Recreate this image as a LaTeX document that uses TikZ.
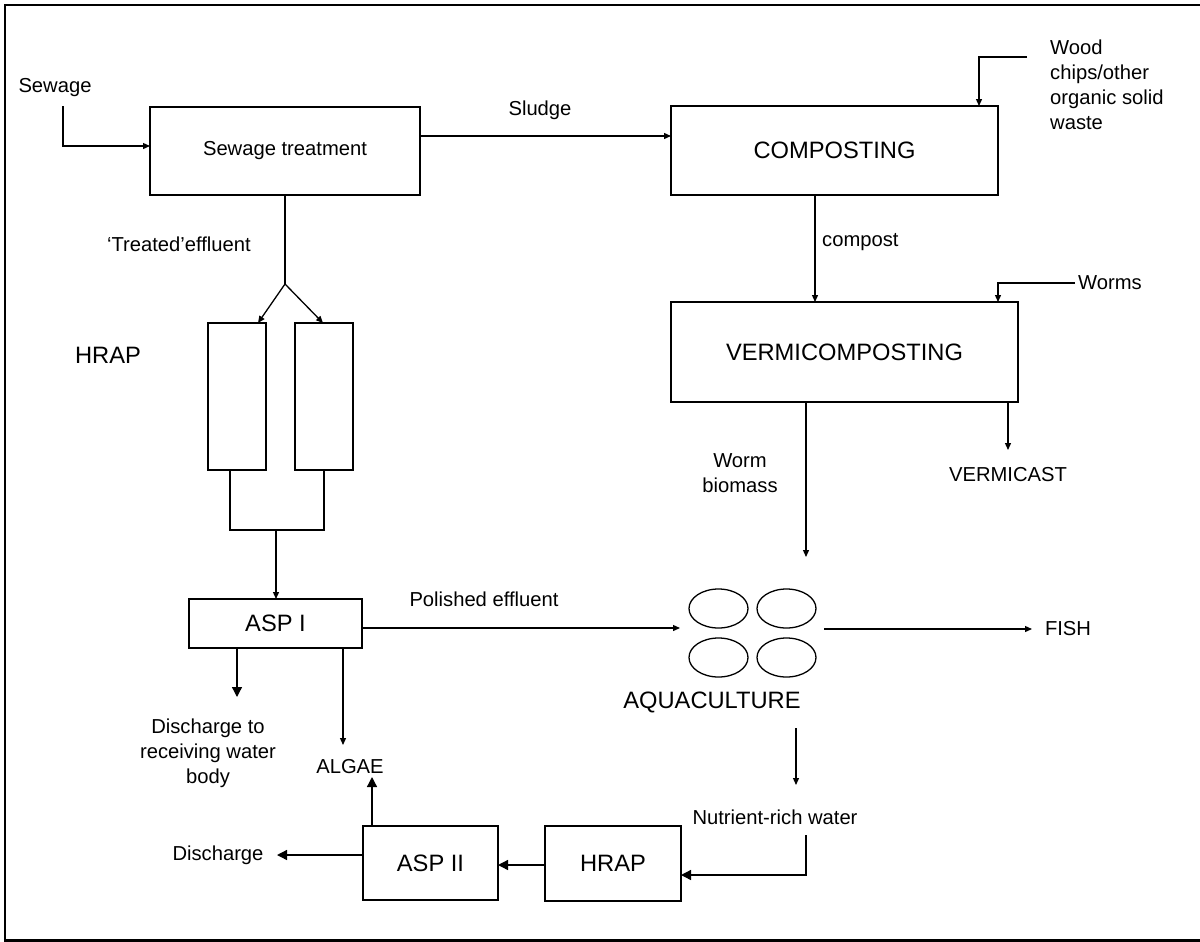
\documentclass[tikz,border=0pt]{standalone}
\usepackage{fontspec}
\setmainfont{Liberation Sans}
\usetikzlibrary{arrows.meta,shapes.geometric}
\begin{document}
\begin{tikzpicture}[x=1pt,y=-1pt,
  sm/.style={font=\fontsize{20.2}{25}\selectfont, inner sep=0pt},
  lg/.style={font=\fontsize{23.7}{28}\selectfont, inner sep=0pt},
  box/.style={draw, line width=1.3pt, inner sep=0pt, outer sep=0pt},
  ln/.style={line width=1.3pt},
  arr/.style={ln, -{Triangle[length=7pt,width=6pt]}},
  barr/.style={ln, -{Triangle[length=10pt,width=10pt]}},
  pond/.style={draw, line width=1.3pt, ellipse, minimum width=59pt, minimum height=39pt, inner sep=0pt}
]
\useasboundingbox (0,0) rectangle (1200,942);
\begin{scope}
  \clip (0,0) rectangle (1200,942);
  \draw[line width=2.2pt] (5,5) rectangle (1206,940.5);
\end{scope}

% process boxes
\node[box, sm, minimum width=270pt, minimum height=88pt] (st) at (285,151) {Sewage treatment};
\node[box, lg, minimum width=327pt, minimum height=89pt] (comp) at (834.5,150.5) {COMPOSTING};
\node[box, lg, minimum width=347pt, minimum height=100pt] (vermi) at (844.5,352) {VERMICOMPOSTING};
\node[box, minimum width=58pt, minimum height=147pt] (hl) at (237,396.5) {};
\node[box, minimum width=58pt, minimum height=147pt] (hr) at (324,396.5) {};
\node[box, lg, minimum width=173pt, minimum height=49pt] (asp1) at (275.5,623.5) {ASP I};
\node[box, lg, minimum width=135pt, minimum height=74pt] (asp2) at (430.5,863) {ASP II};
\node[box, lg, minimum width=136pt, minimum height=75pt] (hrap2) at (613,863.5) {HRAP};

% ponds
\node[pond] (p1) at (718.5,608.5) {};
\node[pond] (p2) at (786.5,608.5) {};
\node[pond] (p3) at (718.5,657.5) {};
\node[pond] (p4) at (786.5,657.5) {};

% labels
\node[sm] (sewage) at (55,88) {Sewage};
\node[sm] (sludge) at (540,110) {Sludge};
\node[sm, anchor=west, align=left] (wood) at (1050,85) {Wood\\chips/other\\organic solid\\waste};
\node[sm, anchor=east] (treated) at (251,244) {‘Treated’effluent};
\node[lg] (hraplab) at (108,355) {HRAP};
\node[sm, anchor=west] (compost) at (822,242) {compost};
\node[sm, anchor=west] (worms) at (1078,283) {Worms};
\node[sm, align=center] (biomass) at (740,473) {Worm\\biomass};
\node[sm] (vcast) at (1008,475) {VERMICAST};
\node[sm] (polished) at (484,599) {Polished effluent};
\node[lg] (aqua) at (712,702) {AQUACULTURE};
\node[sm] (fish) at (1068,629) {FISH};
\node[sm, align=center] (dis1) at (208,753) {Discharge to\\receiving water\\body};
\node[sm] (algae) at (350,767) {ALGAE};
\node[sm] (nutrient) at (775,817) {Nutrient-rich water};
\node[sm] (dis2) at (218,855) {Discharge};

% free ends of connectors
\coordinate (sewin) at (63,106);
\coordinate (woodin) at (1027,57);
\coordinate (castend) at (1008,450);
\coordinate (fork) at (285,284);
\coordinate (jl) at (230,530);
\coordinate (jm) at (276,530);
\coordinate (jr) at (324,530);
\coordinate (aquaW) at (680,628);
\coordinate (aquaE) at (824,629);
\coordinate (fishend) at (1032,629);
\coordinate (biomassend) at (806,557);
\coordinate (aquaS) at (796,728);
\coordinate (nutrN) at (796,785);
\coordinate (nutrS) at (806,835);
\coordinate (dis1end) at (237,697);
\coordinate (algaeN) at (343,745);
\coordinate (algaeS) at (372,777);
\coordinate (dis2end) at (277,855);

% connectors
\draw[arr] (sewin) |- (st.west |- 0,146);
\draw[arr] (st.east |- 0,136) -- (comp.west |- 0,136);
\draw[arr] (woodin) -| (comp.north -| 979,0);
\draw[arr] (comp.south -| 815,0) -- (vermi.north -| 815,0);
\draw[arr] (1075,283) -| (vermi.north -| 998,0);
\draw[arr] (vermi.south -| castend) -- (castend);
\draw[arr] (vermi.south -| biomassend) -- (biomassend);

\draw[ln] (st.south -| fork) -- (fork);
\draw[arr] (fork) -- (hl.north -| 258,0);
\draw[arr] (fork) -- (hr.north -| 323,0);
\draw[ln] (hl.south -| jl) -- (jl) -- (jr) -- (hr.south -| jr);
\draw[arr] (jm) -- (asp1.north -| jm);

\draw[arr] (asp1.east |- aquaW) -- (aquaW);
\draw[arr] (aquaE) -- (fishend);
\draw[barr] (asp1.south -| dis1end) -- (dis1end);
\draw[arr] (asp1.south -| algaeN) -- (algaeN);

\draw[arr] (aquaS) -- (nutrN);
\draw[barr] (nutrS) |- (hrap2.east |- 0,875);
\draw[barr] (hrap2.west |- 0,865) -- (asp2.east |- 0,865);
\draw[barr] (asp2.west |- dis2end) -- (dis2end);
\draw[barr] (asp2.north -| algaeS) -- (algaeS);
\end{tikzpicture}
\end{document}
